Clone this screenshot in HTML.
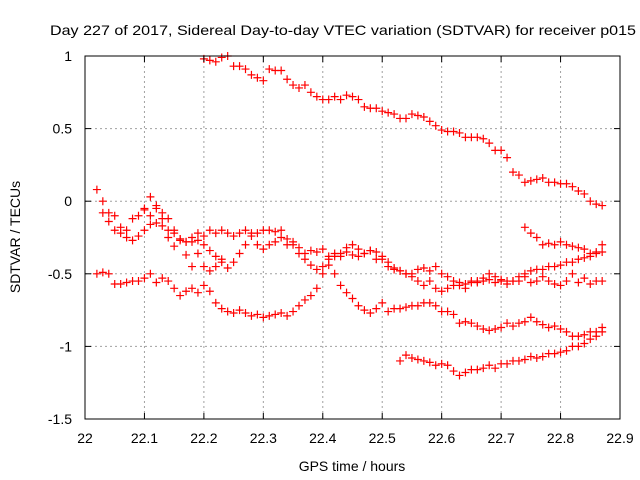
<!DOCTYPE html>
<html><head><meta charset="utf-8"><style>
body{margin:0;background:#fff}
svg{display:block;font-family:"Liberation Sans",sans-serif}
</style></head><body>
<svg id="chart" width="640" height="480" viewBox="0 0 640 480">
<rect x="0" y="0" width="640" height="480" fill="#fff"/>
<g id="grid"></g>
<g id="marks"></g>
<rect x="85" y="56" width="535" height="363" fill="none" stroke="#000" stroke-width="1"/>
<g id="axes"></g>
<text x="343" y="35" text-anchor="middle" font-size="14" textLength="586" lengthAdjust="spacingAndGlyphs">Day 227 of 2017, Sidereal Day-to-day VTEC variation (SDTVAR) for receiver p015</text>
<text x="352" y="471" text-anchor="middle" font-size="14">GPS time / hours</text>
<text x="20" y="237" text-anchor="middle" font-size="14" transform="rotate(-90 20 237)">SDTVAR / TECUs</text>
</svg>
<script>
const xTicks=[22,22.1,22.2,22.3,22.4,22.5,22.6,22.7,22.8,22.9];
const xTickLabels=["22","22.1","22.2","22.3","22.4","22.5","22.6","22.7","22.8","22.9"];
const yTicks=[1,0.5,0,-0.5,-1,-1.5];
const yTickLabels=["1","0.5","0","-0.5","-1","-1.5"];
const seriesAStart=22.20;
const seriesA=[.98,.97,.96,.99,1.0,.93,.93,.91,.87,.85,.83,.91,.9,.9,.84,.8,.78,.8,.75,.72,.7,.7,.72,.7,.73,.72,.7,.65,.64,.64,.62,.61,.6,.57,.57,.6,.59,.58,.55,.52,.49,.48,.48,.47,.44,.44,.44,.43,.4,.35,.35,.3,.2,.18,.13,.14,.15,.16,.13,.13,.12,.12,.1,.07,.05,.0,-.02,-.03];
const seriesBStart=22.02;
const seriesB=[.08,.0,-.08,-.1,-.18,-.2,-.12,-.1,-.06,.03,-.05,-.12,-.2,-.22,-.26,-.28,-.28,-.27,-.24,-.2,-.22,-.2,-.22,-.24,-.22,-.2,-.24,-.22,-.2,-.2,-.21,-.2,-.26,-.3,-.36,-.4,-.44,-.47,-.45,-.38,-.36,-.38,-.35,-.37,-.38,-.36,-.34,-.35,-.38,-.42,-.46,-.48,-.5,-.52,-.55,-.58,-.55,-.6,-.62,-.6,-.58,-.56,-.57,-.55,-.56,-.55,-.54,-.56,-.54,-.57,-.55,-.55,-.52,-.56,-.55,-.52,-.55,-.57,-.58,-.55,-.5,-.56,-.53,-.57,-.55,-.55];
const seriesCStart=22.02;
const seriesC=[-.5,-.49,-.5,-.57,-.57,-.56,-.55,-.55,-.53,-.5,-.56,-.53,-.55,-.6,-.65,-.62,-.6,-.63,-.58,-.62,-.7,-.74,-.76,-.77,-.75,-.77,-.79,-.78,-.8,-.79,-.78,-.77,-.79,-.76,-.72,-.68,-.65,-.6,-.5,-.44,-.5,-.58,-.63,-.67,-.72,-.75,-.77,-.74,-.7,-.76,-.74,-.74,-.73,-.72,-.72,-.7,-.7,-.72,-.76,-.76,-.78,-.84,-.83,-.84,-.86,-.88,-.89,-.88,-.87,-.84,-.86,-.84,-.83,-.8,-.83,-.85,-.87,-.86,-.88,-.9,-.93,-.93,-.92,-.9,-.9,-.87];
const seriesDStart=22.10;
const seriesD=[-.05,-.1,-.03,-.08,-.12,-.2,-.26,-.28,-.25,-.22,-.3,-.34,-.38,-.42,-.46,-.42,-.36,-.3,-.22,-.3,-.33,-.3,-.28,-.25,-.3,-.28,-.32,-.36,-.34,-.35,-.33,-.4,-.38,-.36,-.32,-.3,-.33,-.36,-.34,-.4,-.4,-.45,-.47,-.48,-.5,-.5,-.47,-.46,-.48,-.45,-.5,-.52,-.55,-.58,-.6,-.56,-.55,-.53,-.5,-.52,-.55,-.55,-.55,-.52,-.5,-.48,-.47,-.47,-.45,-.45,-.44,-.42,-.42,-.4,-.39,-.38,-.36,-.35];
const seriesEStart=22.53;
const seriesE=[-1.1,-1.06,-1.08,-1.09,-1.1,-1.11,-1.13,-1.12,-1.13,-1.17,-1.2,-1.18,-1.16,-1.16,-1.15,-1.13,-1.15,-1.12,-1.12,-1.1,-1.1,-1.09,-1.07,-1.08,-1.07,-1.05,-1.05,-1.04,-1.03,-1.0,-1.0,-.98,-.95,-.93,-.9];
const seriesFStart=22.74;
const seriesF=[-.18,-.22,-.25,-.3,-.29,-.3,-.28,-.3,-.31,-.32,-.33,-.36,-.35,-.3];
const seriesGStart=22.03;
const seriesG=[-.08,-.14,-.2,-.22,-.25,-.27,-.24,-.2,-.16,-.15,-.17,-.25,-.31,-.27,-.37,-.45,-.36,-.45,-.48,-.45,-.4];
const xStep=0.01;

const NS='http://www.w3.org/2000/svg';
const X0=85,X1=620,Y0=419,Y1=56;
function xs(v){return X0+(v-22)/(22.9-22)*(X1-X0);}
function ys(v){return Y0-(v-(-1.5))/(1-(-1.5))*(Y0-Y1);}
function mk(tag,at,parent){const e=document.createElementNS(NS,tag);for(const k in at)e.setAttribute(k,at[k]);parent.appendChild(e);return e;}
const grid=document.getElementById('grid'),axes=document.getElementById('axes'),marks=document.getElementById('marks');
xTicks.forEach((t,i)=>{
  const x=xs(t);
  if(i>0&&i<xTicks.length-1){const g=mk('line',{x1:x,y1:Y1,x2:x,y2:Y0,stroke:'#a0a0a0','stroke-dasharray':'2,3'},grid);
  
  }
  const a=mk('line',{x1:x,y1:Y0,x2:x,y2:Y0-6,stroke:'#000'},axes);
  
  
  const b=mk('line',{x1:x,y1:Y1,x2:x,y2:Y1+6,stroke:'#000'},axes);
  
  
  const l=mk('text',{x:x,y:443,'text-anchor':'middle','font-size':'14'},axes);
  l.textContent=xTickLabels[i];
  
  
});
yTicks.forEach((t,i)=>{
  const y=ys(t);
  if(i>0&&i<yTicks.length-1){const g=mk('line',{x1:X0,y1:y,x2:X1,y2:y,stroke:'#a0a0a0','stroke-dasharray':'2,3'},grid);
  
  }
  const a=mk('line',{x1:X0,y1:y,x2:X0+6,y2:y,stroke:'#000'},axes);
  
  
  const b=mk('line',{x1:X1,y1:y,x2:X1-6,y2:y,stroke:'#000'},axes);
  
  
  const l=mk('text',{x:72,y:y+5,'text-anchor':'end','font-size':'14'},axes);
  l.textContent=yTickLabels[i];
  
  
});
function drawSeries(start,vals,name){
  vals.forEach((v,i)=>{
    const cx=xs(start+i*xStep),cy=ys(v);
    const p=mk('path',{d:`M${cx-4} ${cy}H${cx+4}M${cx} ${cy-4}V${cy+4}`,stroke:'#f00','stroke-width':'1.2',fill:'none'},marks);
    
    
  });
}
drawSeries(seriesAStart,seriesA,'series-a');
drawSeries(seriesBStart,seriesB,'series-b');
drawSeries(seriesCStart,seriesC,'series-c');
drawSeries(seriesDStart,seriesD,'series-d');
drawSeries(seriesEStart,seriesE,'series-e');
drawSeries(seriesFStart,seriesF,'series-f');
drawSeries(seriesGStart,seriesG,'series-g');
</script>
</body></html>
